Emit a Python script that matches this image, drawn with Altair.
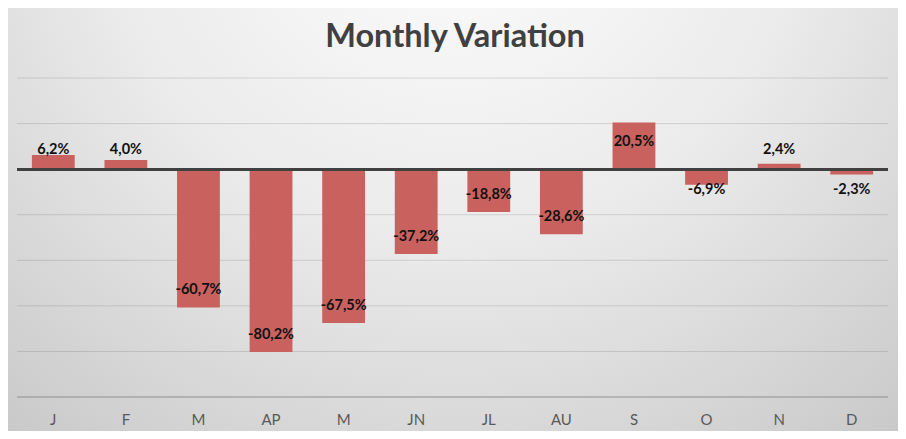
import altair as alt
import pandas as pd

months = ["J", "F", "M", "AP", "M", "JN", "JL", "AU", "S", "O", "N", "D"]
values = [6.2, 4.0, -60.7, -80.2, -67.5, -37.2, -18.8, -28.6, 20.5, -6.9, 2.4, -2.3]
grid_values = [-80, -60, -40, -20, 0, 20, 40]
bottom_value = -100
title_text = "Monthly Variation"

df = pd.DataFrame({"idx": list(range(len(months))), "month": months, "v": values})
grid_df = pd.DataFrame({"g": grid_values})
label_expr = "[" + ",".join("'%s'" % m for m in months) + "][datum.value]"

W, H = 871, 319
BAR = "#c9625f"

base = alt.Chart(df).transform_calculate(
    lab="(datum.v < 0 ? '-' : '') + replace(format(abs(datum.v), '.1f'), '.', ',') + '%'"
)

x_enc = alt.X(
    "idx:O",
    scale=alt.Scale(paddingInner=0.41, paddingOuter=0.205),
    axis=alt.Axis(
        title=None, labelExpr=label_expr, labelAngle=0, domain=False, ticks=False,
        labelFont="Lato", labelFontSize=15, labelColor="#595959", labelPadding=15,
        grid=False, zindex=1,
    ),
)
y_scale = alt.Scale(domain=[-100, 40], nice=False, zero=False)

bg = alt.Chart(pd.DataFrame({"a": [0]})).mark_rect(
    fill=alt.RadialGradient(
        gradient="radial",
        stops=[
            alt.GradientStop(color="#fefefe", offset=0),
            alt.GradientStop(color="#ebebeb", offset=0.5),
            alt.GradientStop(color="#c9c9c9", offset=1),
        ],
        x1=0.5, y1=0.12, r1=0, x2=0.5, y2=0.12, r2=0.8,
    )
).encode(
    x=alt.value(-9), x2=alt.value(881), y=alt.value(-70), y2=alt.value(353)
)

title = alt.Chart(pd.DataFrame({"t": [title_text]})).mark_text(
    font="Lato", fontSize=32.5, fontWeight="bold", color="#404040",
    align="center", baseline="alphabetic",
).encode(x=alt.value(438), y=alt.value(-31), text="t:N")

grid = alt.Chart(grid_df).mark_rule(color="#000000", opacity=0.12, strokeWidth=1).encode(
    y=alt.Y("g:Q", scale=y_scale)
)
bottom = alt.Chart(pd.DataFrame({"b": [bottom_value]})).mark_rule(
    color="#8f8f8f", strokeWidth=1
).encode(y=alt.Y("b:Q", scale=y_scale))

bars = base.mark_bar(color=BAR).encode(
    x=x_enc,
    y=alt.Y(
        "v:Q", scale=y_scale,
        axis=alt.Axis(title=None, labels=False, ticks=False, domain=False, grid=False),
    ),
)

zero = alt.Chart(df).mark_rule(color="#404040", strokeWidth=2.5).encode(
    y=alt.datum(0, scale=y_scale)
)

txt = dict(font="Lato", fontSize=14.5, fontWeight="bold", color="#111111", baseline="middle")

lab_pos_big = base.transform_filter("datum.v > 10").mark_text(dy=20, **txt).encode(
    x="idx:O", y=alt.Y("v:Q", scale=y_scale), text="lab:N"
)
lab_neg_big = base.transform_filter("datum.v < -10").mark_text(dy=-17, **txt).encode(
    x="idx:O", y=alt.Y("v:Q", scale=y_scale), text="lab:N"
)
lab_pos_small = base.transform_filter("datum.v >= 0 && datum.v <= 10").mark_text(dy=-19, **txt).encode(
    x="idx:O", y=alt.datum(0, scale=y_scale), text="lab:N"
)
lab_neg_small = base.transform_filter("datum.v < 0 && datum.v >= -10").mark_text(dy=21, **txt).encode(
    x="idx:O", y=alt.datum(0, scale=y_scale), text="lab:N"
)

chart = alt.layer(
    bg, title, grid, bottom, bars, zero, lab_pos_big, lab_neg_big, lab_pos_small, lab_neg_small
).properties(
    width=W, height=H,
    autosize=alt.AutoSizeParams(type="none"),
    padding={"left": 9, "top": 70, "right": 10, "bottom": 34},
).configure_view(stroke="transparent").configure(background="#d0d0d0")

chart.save("out.html", embed_options={"renderer": "svg", "actions": False})
